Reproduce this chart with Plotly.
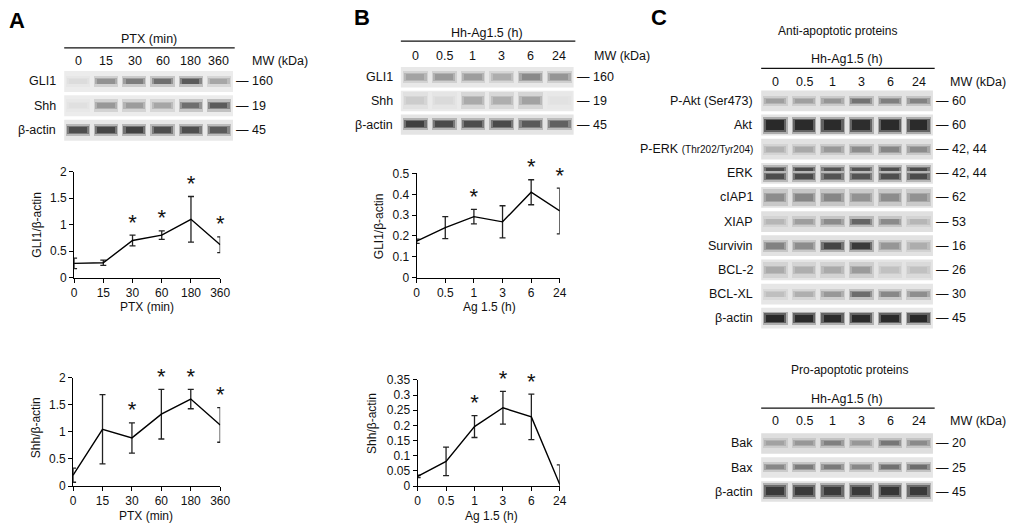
import plotly.graph_objects as go

W, H = 1017, 530
FONT = "Liberation Sans, Arial, Helvetica, sans-serif"

# ---------------- data ----------------
ptx_labels = ["0", "15", "30", "60", "180", "360"]
ag_labels = ["0", "0.5", "1", "3", "6", "24"]

gli1_ptx = [0.27, 0.28, 0.70, 0.80, 1.10, 0.62]
gli1_ptx_err = [0.10, 0.05, 0.10, 0.08, 0.43, 0.15]
gli1_ptx_sig = [False, False, True, True, True, True]

shh_ptx = [0.20, 1.05, 0.89, 1.33, 1.61, 1.13]
shh_ptx_err = [0.13, 0.64, 0.28, 0.46, 0.18, 0.32]
shh_ptx_sig = [False, False, True, True, True, True]

gli1_ag = [0.175, 0.24, 0.293, 0.268, 0.41, 0.32]
gli1_ag_err = [0.01, 0.053, 0.035, 0.077, 0.06, 0.11]
gli1_ag_sig = [False, False, True, False, True, True]

shh_ag = [0.032, 0.081, 0.196, 0.258, 0.228, 0.005]
shh_ag_err = [0.004, 0.047, 0.036, 0.054, 0.075, 0.065]
shh_ag_sig = [False, False, True, True, True, False]

# western blot rows: names, MW (kDa), band intensities per lane (0..1)
a_rows = ["GLI1", "Shh", "β-actin"]
a_mw = ["160", "19", "45"]
a_gli1 = [0.08, 0.45, 0.55, 0.62, 0.72, 0.35]
a_shh = [0.06, 0.42, 0.40, 0.35, 0.62, 0.72]
a_actin = [0.78, 0.82, 0.85, 0.78, 0.78, 0.72]

b_rows = ["GLI1", "Shh", "β-actin"]
b_mw = ["160", "19", "45"]
b_gli1 = [0.35, 0.40, 0.38, 0.30, 0.48, 0.42]
b_shh = [0.15, 0.08, 0.32, 0.30, 0.36, 0.04]
b_actin = [0.85, 0.80, 0.78, 0.80, 0.72, 0.68]

c_rows = ["P-Akt (Ser473)", "Akt", "P-ERK <span style='font-size:10px'>(Thr202/Tyr204)</span>",
          "ERK", "cIAP1", "XIAP", "Survivin", "BCL-2", "BCL-XL", "β-actin"]
c_mw = ["60", "60", "42, 44", "42, 44", "62", "53", "16", "26", "30", "45"]
c_pakt = [0.35, 0.35, 0.40, 0.58, 0.52, 0.50]
c_akt = [0.97, 0.96, 0.96, 0.95, 0.96, 0.96]
c_perk = [0.25, 0.30, 0.38, 0.45, 0.48, 0.45]
c_erk = [0.78, 0.80, 0.75, 0.75, 0.78, 0.80]
c_ciap1 = [0.45, 0.48, 0.48, 0.42, 0.45, 0.42]
c_xiap = [0.22, 0.35, 0.45, 0.65, 0.45, 0.22]
c_survivin = [0.50, 0.45, 0.82, 0.88, 0.40, 0.28]
c_bcl2 = [0.30, 0.28, 0.30, 0.38, 0.18, 0.18]
c_bclxl = [0.20, 0.28, 0.40, 0.62, 0.48, 0.45]
c_actin = [0.97, 0.96, 0.96, 0.96, 0.96, 0.97]

p_rows = ["Bak", "Bax", "β-actin"]
p_mw = ["20", "25", "45"]
p_bak = [0.32, 0.38, 0.50, 0.38, 0.55, 0.45]
p_bax = [0.48, 0.55, 0.55, 0.48, 0.60, 0.62]
p_actin = [0.88, 0.88, 0.88, 0.88, 0.90, 0.88]


# ---------------- helpers ----------------
def X(px):
    return px / W


def Y(py):
    return 1 - py / H


def sfx(i):
    return "" if i == 1 else str(i)


fig = go.Figure()
annotations = []
shapes = []


def txt(x, y, text, size=12, xanchor="center", yanchor="middle", xref="paper", yref="paper",
        bold=False, angle=0, xshift=0, color="#111"):
    annotations.append(dict(x=x, y=y, xref=xref, yref=yref, text=("<b>%s</b>" % text) if bold else text,
                            showarrow=False, xanchor=xanchor, yanchor=yanchor, textangle=angle,
                            xshift=xshift, font=dict(family=FONT, size=size, color=color)))


# ---------------- line charts ----------------
def chart(i, xdom, ydom, yrange, dtick, labels, vals, errs, sig, ytitle, ytx, yty, xtitle, xtx, xty):
    s = sfx(i)
    fig.add_trace(go.Scatter(x=list(range(len(vals))), y=vals, mode="lines",
                             line=dict(color="black", width=1.4),
                             error_y=dict(type="data", array=errs, color="#222", thickness=1.3, width=3),
                             xaxis="x" + s, yaxis="y" + s, showlegend=False, hoverinfo="skip"))
    sx = [k for k in range(len(vals)) if sig[k]]
    sy = [vals[k] + errs[k] for k in sx]
    fig.add_trace(go.Scatter(x=sx, y=sy, mode="text", text=["*"] * len(sx), textposition="top center",
                             textfont=dict(family=FONT, size=22, color="#111"), cliponaxis=False,
                             xaxis="x" + s, yaxis="y" + s, showlegend=False, hoverinfo="skip"))
    fig.layout["xaxis" + s] = dict(domain=[X(xdom[0]), X(xdom[1])], anchor="y" + s, range=[0, len(vals) - 1],
                                   tickmode="array", tickvals=list(range(len(labels))), ticktext=labels,
                                   showline=True, linecolor="black", linewidth=1, ticks="outside", ticklen=4,
                                   tickcolor="black", showgrid=False, zeroline=False, fixedrange=True,
                                   tickfont=dict(family=FONT, size=12, color="#111"))
    fig.layout["yaxis" + s] = dict(domain=[Y(ydom[1]), Y(ydom[0])], anchor="x" + s, range=yrange,
                                   tick0=0, dtick=dtick, showline=True, linecolor="black", linewidth=1,
                                   ticks="outside", ticklen=4, tickcolor="black", showgrid=False,
                                   zeroline=False, fixedrange=True,
                                   tickfont=dict(family=FONT, size=12, color="#111"))
    txt(X(ytx), Y(yty), ytitle, size=12, angle=-90)
    txt(X(xtx), Y(xty), xtitle, size=12)


chart(1, (72, 220), (169, 278), [0, 2], 0.5, ptx_labels, gli1_ptx, gli1_ptx_err, gli1_ptx_sig,
      "GLI1/β-actin", 35, 224, "PTX (min)", 146, 308)
chart(2, (71, 220), (381, 492), [0, 2], 0.5, ptx_labels, shh_ptx, shh_ptx_err, shh_ptx_sig,
      "Shh/β-actin", 33, 432, "PTX (min)", 145, 523)
chart(3, (419, 564), (171, 278), [0, 0.5], 0.1, ag_labels, gli1_ag, gli1_ag_err, gli1_ag_sig,
      "GLI1/β-actin", 381, 225, "Ag 1.5 (h)", 493, 308)
chart(4, (420, 564), (383, 492), [0, 0.35], 0.05, ag_labels, shh_ag, shh_ag_err, shh_ag_sig,
      "Shh/β-actin", 373, 428, "Ag 1.5 (h)", 495, 523)


# ---------------- blots ----------------
def gray(level):
    v = int(round(level))
    return "rgb(%d,%d,%d)" % (v, v, v)


def blot(i, xdom, ydom, rows, mws, intens, styles, bg, lane_labels, lanes_y, title, title_y, line_y, mw_x):
    s = sfx(i)
    n = len(rows)
    lanes = list(range(len(lane_labels)))
    fig.layout["xaxis" + s] = dict(domain=[X(xdom[0]), X(xdom[1])], anchor="y" + s, range=[-0.5, len(lanes) - 0.5],
                                   visible=False, fixedrange=True)
    fig.layout["yaxis" + s] = dict(domain=[Y(ydom[1]), Y(ydom[0])], anchor="x" + s, range=[n - 0.5, -0.5],
                                   visible=False, fixedrange=True)
    for r in range(n):
        shapes.append(dict(type="rect", xref="x%s domain" % s, yref="y" + s, x0=0, x1=1,
                           y0=r - 0.43, y1=r + 0.43, fillcolor=gray(bg[r]), line=dict(width=0), layer="below"))
        core, halo, double = styles[r]
        offsets = [-0.12, 0.12] if double else [0.0]
        for off in offsets:
            th = core / (1.6 if double else 1.0)
            # soft, layered band: wide faint halo -> narrow dark core
            for wid, tk, frac in ((0.86, halo, 0.3), (0.78, 1.0, 0.7), (0.62, 0.75, 1.0)):
                fig.add_trace(go.Bar(x=lanes, y=[th * tk] * len(lanes), base=[r + off - th * tk / 2] * len(lanes),
                                     width=wid,
                                     marker=dict(color=[gray(bg[r] - v * frac * (bg[r] - 35)) for v in intens[r]],
                                                 line=dict(width=0)),
                                     xaxis="x" + s, yaxis="y" + s, showlegend=False, hoverinfo="skip"))
        txt(0, r, rows[r], size=12.5, xanchor="right", xref="x%s domain" % s, yref="y" + s, xshift=-6)
        txt(1, r, "— " + mws[r], size=12.5, xanchor="left", xref="x%s domain" % s, yref="y" + s, xshift=1)
    for k, lab in enumerate(lane_labels):
        txt(k, Y(lanes_y), lab, size=12.5, xref="x" + s)
    txt(X(mw_x), Y(lanes_y), "MW (kDa)", size=12.5, xanchor="left")
    txt(0.5, Y(title_y), "Hh-Ag1.5 (h)" if title is None else title, size=12.5, xref="x%s domain" % s)
    shapes.append(dict(type="line", xref="x%s domain" % s, yref="paper", x0=0, x1=1.01,
                       y0=Y(line_y), y1=Y(line_y), line=dict(color="#111", width=1.2)))


thin = (0.26, 1.7, False)
med = (0.32, 1.6, False)
thick = (0.42, 1.35, False)
diffuse = (0.36, 1.9, False)
dbl = (0.5, 1.4, True)

blot(5, (62, 233), (64, 139), a_rows, a_mw, [a_gli1, a_shh, a_actin], [thin, med, med],
     [236, 236, 232], ptx_labels, 55, "PTX (min)", 33, 42, 250)
blot(6, (403, 578), (60, 133), b_rows, b_mw, [b_gli1, b_shh, b_actin], [med, diffuse, med],
     [232, 234, 228], ag_labels, 50, None, 27, 35, 597)
blot(7, (768, 942), (84, 332), c_rows, c_mw,
     [c_pakt, c_akt, c_perk, c_erk, c_ciap1, c_xiap, c_survivin, c_bcl2, c_bclxl, c_actin],
     [thin, (0.55, 1.3, False), thin, dbl, diffuse, thin, med, diffuse, thin, thick],
     [226, 228, 226, 228, 226, 224, 226, 228, 230, 232], ag_labels, 77, None, 53, 63, 957)
blot(8, (768, 942), (436, 510), p_rows, p_mw, [p_bak, p_bax, p_actin], [thin, thin, (0.48, 1.35, False)],
     [222, 230, 226], ag_labels, 425, None, 403, 412, 957)

txt(X(845), Y(25), "Anti-apoptotic proteins", size=12)
txt(X(857), Y(373), "Pro-apoptotic proteins", size=12)

# panel letters
txt(X(4), Y(14), "A", size=22, xanchor="left", bold=True, color="black")
txt(X(354), Y(11), "B", size=22, xanchor="left", bold=True, color="black")
txt(X(654), Y(11), "C", size=22, xanchor="left", bold=True, color="black")

fig.update_layout(width=W, height=H, margin=dict(l=0, r=0, t=0, b=0), paper_bgcolor="white",
                  plot_bgcolor="rgba(0,0,0,0)", barmode="overlay", bargap=0,
                  annotations=annotations, shapes=shapes, font=dict(family=FONT, color="#111"))

fig.write_html("out.html", config={"displayModeBar": False},
               post_script="document.body.style.margin='0';document.body.style.padding='0';")
